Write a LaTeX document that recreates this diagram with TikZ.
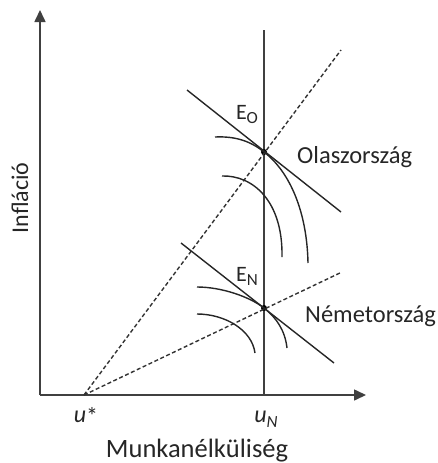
\documentclass[tikz,border=0pt]{standalone}
\usepackage{fontspec}
\setmainfont{Carlito}
\usepackage{tikz}
\usetikzlibrary{arrows.meta, positioning, calc}

\begin{document}
\begin{tikzpicture}[
    x=1pt, y=-1pt,
    axis/.style={draw=black!75, line width=1.6pt, -{Triangle[length=12pt, width=11pt]}},
    curve/.style={draw=black!85, line width=1.4pt},
    guide/.style={draw=black!80, line width=1.4pt, dash pattern=on 4pt off 2.5pt},
    lbl/.style={text=black!85, font=\fontsize{24.5}{28}\selectfont, inner sep=0pt},
    eq/.style={text=black!85, font=\fontsize{22}{26}\selectfont, inner sep=0pt},
    dot/.style={circle, fill=black, inner sep=0pt, minimum size=6pt},
  ]
  \useasboundingbox (0,0) rectangle (437,463);

  % axes
  \coordinate (orig) at (40,395);
  \coordinate (ytip) at (40,10);
  \coordinate (xtip) at (366,395);
  \draw[axis] (orig) -- (ytip);
  \draw[axis] (orig) -- (xtip);

  % natural rate line
  \coordinate (ustar) at (84,395);
  \coordinate (uN) at (264,395);
  \coordinate (uNtop) at (264,30);
  \draw[draw=black!75, line width=1.6pt] (uN) -- (uNtop);

  % equilibria
  \node[dot] (EO) at (264,152) {};
  \node[dot] (EN) at (264,308) {};

  % dashed rays from u*
  \coordinate (rayO) at (341,50);
  \coordinate (rayN) at (342,272);
  \draw[guide] (ustar) -- (rayO);
  \draw[guide] (ustar) -- (rayN);

  % tangent lines
  \coordinate (tO1) at (187,90);
  \coordinate (tO2) at (341,212);
  \coordinate (tN1) at (181,243);
  \coordinate (tN2) at (334,363);
  \draw[curve] (tO1) -- (tO2);
  \draw[curve] (tN1) -- (tN2);

  % indifference curves, Olaszorszag
  \coordinate (cO1) at (215,137);
  \coordinate (cO2) at (308,263);
  \coordinate (cO3) at (222,176);
  \coordinate (cO4) at (282,257);
  \draw[curve] (cO1) .. controls (236,136) and (251,141.5) .. (EO.center)
               .. controls (290,172) and (307,212) .. (cO2);
  \draw[curve] (cO3) .. controls (252,175) and (283,200) .. (cO4);

  % indifference curves, Nemetorszag
  \coordinate (cN1) at (197,287);
  \coordinate (cN2) at (287,348);
  \coordinate (cN3) at (197,314);
  \coordinate (cN4) at (255,353);
  \draw[curve] (cN1) .. controls (222,287) and (250,297) .. (EN.center)
               .. controls (276,317.4) and (285,330) .. (cN2);
  \draw[curve] (cN3) .. controls (225,314) and (252,330) .. (cN4);

  % labels
  \node[eq, anchor=base] (lEO) at (247,119) {E\raisebox{-0.2em}{\fontsize{17}{17}\selectfont O}};
  \node[eq, anchor=base] (lEN) at (247,281) {E\raisebox{-0.2em}{\fontsize{17}{17}\selectfont N}};
  \node[lbl, anchor=base west] (olasz) at (297,163) {Olaszország};
  \node[lbl, anchor=base west] (nemet) at (305,322) {Németország};
  \node[eq, anchor=base, font=\fontsize{24}{26}\selectfont] (lustar) at (86,422) {\textit{u}\raisebox{-0.1em}{*}};
  \node[eq, anchor=base, font=\fontsize{24}{26}\selectfont] (luN) at (266,422)
    {\textit{u}\raisebox{-0.22em}{\fontsize{17}{17}\selectfont\textit{N}}};
  \node[lbl, anchor=base, font=\fontsize{26.5}{30}\selectfont] (xlab) at (197,457) {Munkanélküliség};
  \node[lbl, anchor=base, rotate=90, font=\fontsize{24}{28}\selectfont] (ylab) at (28,198) {Infláció};
\end{tikzpicture}
\end{document}
